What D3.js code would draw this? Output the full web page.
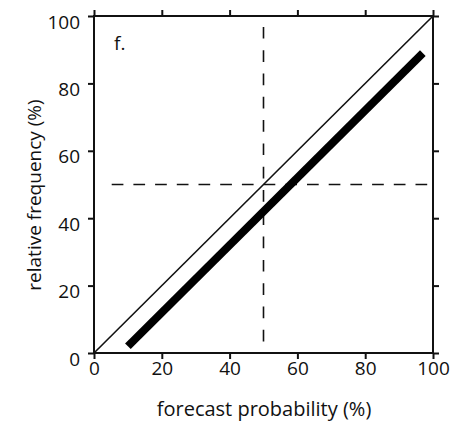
<!DOCTYPE html>
<html>
<head>
<meta charset="utf-8">
<script src="https://cdn.jsdelivr.net/npm/d3@7"></script>
<style>
  html, body { margin: 0; padding: 0; background: #fff; }
  svg text { font-family: "Open Sans", "Noto Sans", sans-serif; fill: #111; }
</style>
</head>
<body>
<svg id="chart" width="462" height="422"></svg>
<script>
// Reliability diagram: observed relative frequency against forecast probability
const tickValues = [0, 20, 40, 60, 80, 100];
const diagonal = [[0, 0], [100, 100]];           // perfect reliability
const reliability = [[10, 2], [97, 89]];          // forecast curve
const referenceLevel = 50;                        // dashed climatology guides
const panelLabel = "f.";
const xTitle = "forecast probability (%)";
const yTitle = "relative frequency (%)";

const svg = d3.select("#chart");
const plotLeft = 94, plotRight = 433, plotTop = 16, plotBottom = 353;

const x = d3.scaleLinear().domain([0, 100]).range([plotLeft, plotRight]);
const y = d3.scaleLinear().domain([0, 100]).range([plotBottom, plotTop]);

const tickFont = 19;
const tickLen = 6;

// Frame with outward ticks on all four sides
const axB = svg.append("g").attr("transform", `translate(0,${plotBottom})`)
  .call(d3.axisBottom(x).tickValues(tickValues).tickSize(tickLen).tickPadding(16));
const axL = svg.append("g").attr("transform", `translate(${plotLeft},0)`)
  .call(d3.axisLeft(y).tickValues(tickValues).tickSize(tickLen).tickPadding(8));
const axT = svg.append("g").attr("transform", `translate(0,${plotTop})`)
  .call(d3.axisTop(x).tickValues(tickValues).tickSize(tickLen).tickFormat(""));
const axR = svg.append("g").attr("transform", `translate(${plotRight},0)`)
  .call(d3.axisRight(y).tickValues(tickValues).tickSize(tickLen).tickFormat(""));

[axB, axL, axT, axR].forEach(g => {
  g.select(".domain").remove();
  g.selectAll(".tick line").attr("stroke", "#111").attr("stroke-width", 2);
  g.selectAll(".tick text").attr("font-size", tickFont)
    .attr("font-family", "'Open Sans', 'Noto Sans', sans-serif").attr("fill", "#111");
});
axB.selectAll(".tick text").attr("dy", 0);
axL.selectAll(".tick text").attr("dy", 12);

svg.append("rect")
  .attr("x", x(0)).attr("y", y(100))
  .attr("width", x(100) - x(0)).attr("height", y(0) - y(100))
  .attr("fill", "none").attr("stroke", "#111").attr("stroke-width", 2);

// Dash pattern with a leading blank stretch, repeated to cover the line
function dashPattern(lead, dash, gap, length) {
  const parts = [0, lead];
  for (let s = lead; s < length; s += dash + gap) parts.push(dash, gap);
  return parts.join(",");
}

// Dashed guides at 50%
svg.append("line")
  .attr("x1", x(referenceLevel)).attr("x2", x(referenceLevel))
  .attr("y1", y(100)).attr("y2", y(0))
  .attr("stroke", "#111").attr("stroke-width", 1.6)
  .attr("stroke-dasharray", dashPattern(10.9, 11.7, 11.6, y(0) - y(100)));
svg.append("line")
  .attr("x1", x(0)).attr("x2", x(100))
  .attr("y1", y(referenceLevel)).attr("y2", y(referenceLevel))
  .attr("stroke", "#111").attr("stroke-width", 1.6)
  .attr("stroke-dasharray", dashPattern(17.7, 11.7, 10, x(100) - x(0)));

const line = d3.line().x(d => x(d[0])).y(d => y(d[1]));

svg.append("path").datum(diagonal).attr("d", line)
  .attr("fill", "none").attr("stroke", "#111").attr("stroke-width", 1.6);

svg.append("path").datum(reliability).attr("d", line)
  .attr("fill", "none").attr("stroke", "#000").attr("stroke-width", 8);

// Labels
svg.append("text").attr("x", 114).attr("y", 50).attr("font-size", 19).text(panelLabel);

svg.append("text")
  .attr("x", 264).attr("y", 416)
  .attr("text-anchor", "middle").attr("font-size", 20).text(xTitle);

svg.append("text")
  .attr("transform", "translate(41,195) rotate(-90)")
  .attr("text-anchor", "middle").attr("font-size", 19).text(yTitle);
</script>
</body>
</html>
